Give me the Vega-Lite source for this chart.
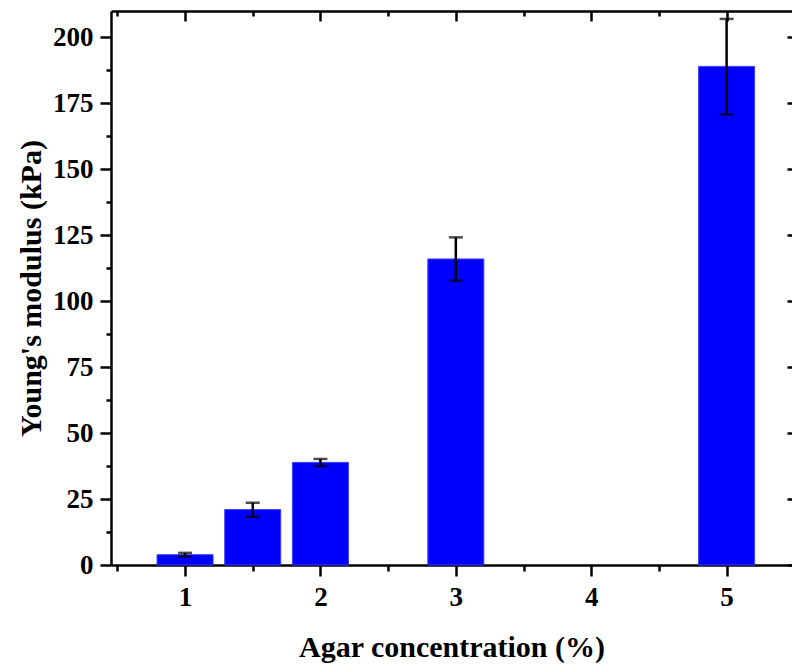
{
  "$schema": "https://vega.github.io/schema/vega-lite/v6.json",
  "width": 681,
  "height": 554,
  "autosize": "none",
  "padding": {"left": 111, "top": 11, "right": 0, "bottom": 102},
  "background": "white",
  "config": {
    "view": {"stroke": null},
    "axis": {
      "labelFont": "Liberation Serif",
      "labelFontWeight": "bold",
      "labelFontSize": 27,
      "labelColor": "black",
      "titleFont": "Liberation Serif",
      "titleFontWeight": "bold",
      "titleFontSize": 30,
      "titleColor": "black",
      "tickColor": "black",
      "tickWidth": 2.5,
      "domainColor": "black",
      "domainWidth": 2.5,
      "domain": false,
      "grid": false
    }
  },
  "data": {
    "values": [
      {"x": 1, "y": 3.9, "lo": 3.2, "hi": 4.6},
      {"x": 1.5, "y": 21.0, "lo": 18.3, "hi": 23.6},
      {"x": 2, "y": 38.9, "lo": 37.5, "hi": 40.2},
      {"x": 3, "y": 116.0, "lo": 107.8, "hi": 124.2},
      {"x": 5, "y": 189.0, "lo": 170.8, "hi": 207.0}
    ]
  },
  "resolve": {"axis": {"x": "independent", "y": "independent"}},
  "layer": [
    {
      "mark": {"type": "bar", "color": "#0000ff", "size": 56, "stroke": "#3c3cff", "strokeWidth": 1},
      "encoding": {
        "x": {
          "field": "x", "type": "quantitative",
          "scale": {"domain": [0.49, 5.446], "nice": false, "zero": false},
          "axis": {"orient": "bottom", "values": [1, 2, 3, 4, 5], "domain": true, "tickSize": 11, "labelPadding": 8, "title": "Agar concentration (%)", "titlePadding": 22}
        },
        "y": {
          "field": "y", "type": "quantitative",
          "scale": {"domain": [0, 210], "nice": false},
          "axis": {"orient": "left", "values": [0, 25, 50, 75, 100, 125, 150, 175, 200], "domain": true, "tickSize": 11, "labelPadding": 7, "title": "Young's modulus (kPa)", "titlePadding": 6}
        }
      }
    },
    {
      "mark": {"type": "rule", "color": "black", "strokeWidth": 2.5},
      "encoding": {
        "x": {
          "field": "x", "type": "quantitative",
          "axis": {"orient": "bottom", "values": [0.5, 1.5, 2.5, 3.5, 4.5, 5.5], "tickSize": 6, "labels": false, "title": null}
        },
        "y": {
          "field": "lo", "type": "quantitative",
          "axis": {"orient": "left", "values": [12.5, 37.5, 62.5, 87.5, 112.5, 137.5, 162.5, 187.5], "tickSize": 5, "labels": false, "title": null}
        },
        "y2": {"field": "hi"}
      }
    },
    {
      "mark": {"type": "tick", "color": "black", "orient": "horizontal", "size": 14, "thickness": 2.5},
      "encoding": {
        "x": {
          "field": "x", "type": "quantitative",
          "axis": {"orient": "top", "values": [1, 2, 3, 4, 5], "domain": true, "tickSize": -10, "labels": false, "title": null}
        },
        "y": {
          "field": "hi", "type": "quantitative",
          "axis": {"orient": "right", "values": [0, 25, 50, 75, 100, 125, 150, 175, 200], "tickSize": -5, "labels": false, "title": null}
        }
      }
    },
    {
      "mark": {"type": "tick", "color": "black", "orient": "horizontal", "size": 14, "thickness": 2.5},
      "encoding": {
        "x": {
          "field": "x", "type": "quantitative",
          "axis": {"orient": "top", "values": [0.5, 1.5, 2.5, 3.5, 4.5, 5.5], "tickSize": -5, "labels": false, "title": null}
        },
        "y": {
          "field": "lo", "type": "quantitative",
          "axis": {"orient": "right", "values": [12.5], "tickSize": 0, "labels": false, "title": null}
        }
      }
    }
  ]
}
